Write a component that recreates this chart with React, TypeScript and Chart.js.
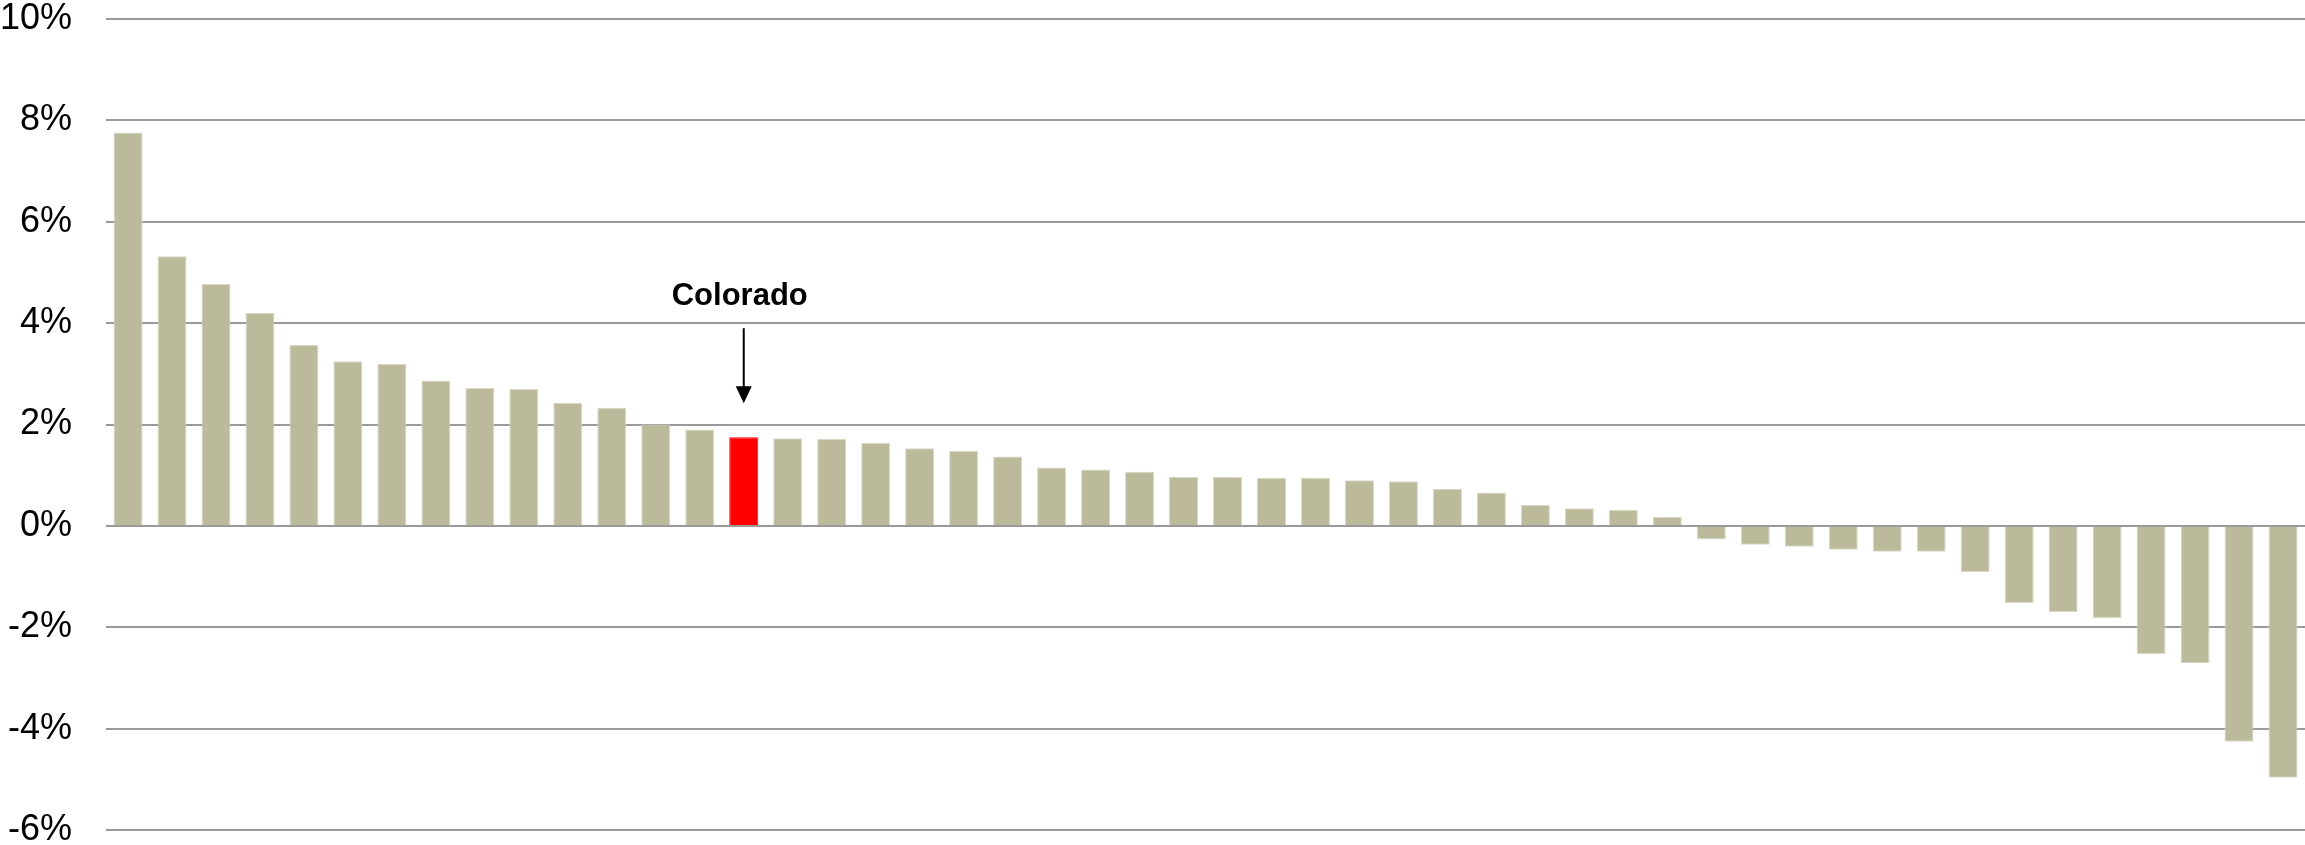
import React, { useEffect, useRef } from "react";
import { Chart, registerables, Plugin } from "chart.js";

Chart.register(...registerables);

const categories: string[] = [
  "", "", "", "", "", "", "", "", "", "",
  "", "", "", "", "Colorado", "", "", "", "", "",
  "", "", "", "", "", "", "", "", "", "",
  "", "", "", "", "", "", "", "", "", "",
  "", "", "", "", "", "", "", "", "", "",
];

const growthValues: number[] = [
  7.76, 5.32, 4.77, 4.2, 3.57, 3.25, 3.2, 2.87, 2.72, 2.7,
  2.43, 2.33, 2.0, 1.9, 1.75, 1.73, 1.72, 1.64, 1.53, 1.48,
  1.37, 1.15, 1.11, 1.07, 0.97, 0.97, 0.95, 0.95, 0.9, 0.88,
  0.73, 0.66, 0.41, 0.35, 0.32, 0.18, -0.27, -0.37, -0.41, -0.47,
  -0.51, -0.51, -0.91, -1.52, -1.7, -1.82, -2.53, -2.71, -4.26, -4.97,
];

const highlightLabel = "Colorado";
const yMin = -6;
const yMax = 10;
const yStep = 2;

const BAR_COLOR = "#BBBA9B";
const BAR_EDGE = "#D9D9C6";
const HIGHLIGHT_COLOR = "#FF0000";

const calloutPlugin: Plugin<"bar"> = {
  id: "callout",
  afterDatasetsDraw(chart) {
    const idx = categories.indexOf(highlightLabel);
    if (idx < 0) return;
    const meta = chart.getDatasetMeta(0);
    const el: any = meta.data[idx];
    if (!el) return;
    const x = el.x;
    const top = el.y;
    const ctx = chart.ctx;
    ctx.save();
    ctx.fillStyle = "#000";
    ctx.strokeStyle = "#000";
    ctx.font = 'bold 31px "Liberation Sans", Arial, sans-serif';
    ctx.textAlign = "center";
    ctx.textBaseline = "alphabetic";
    ctx.fillText(highlightLabel, x - 4, top - 132);
    const tipY = top - 34;
    const lineTop = top - 109;
    ctx.lineWidth = 2;
    ctx.beginPath();
    ctx.moveTo(x, lineTop);
    ctx.lineTo(x, tipY - 14);
    ctx.stroke();
    ctx.beginPath();
    ctx.moveTo(x - 8, tipY - 17);
    ctx.lineTo(x + 8, tipY - 17);
    ctx.lineTo(x, tipY);
    ctx.closePath();
    ctx.fill();
    ctx.restore();
  },
};

export default function App() {
  const canvasRef = useRef<HTMLCanvasElement | null>(null);

  useEffect(() => {
    if (!canvasRef.current) return;
    const chart = new Chart(canvasRef.current, {
      type: "bar",
      data: {
        labels: categories,
        datasets: [
          {
            data: growthValues,
            backgroundColor: categories.map((c) =>
              c === highlightLabel ? HIGHLIGHT_COLOR : BAR_COLOR
            ),
            borderColor: categories.map((c) =>
              c === highlightLabel ? HIGHLIGHT_COLOR : BAR_EDGE
            ),
            borderWidth: 1,
            barPercentage: 1,
            categoryPercentage: 0.66,
          },
        ],
      },
      options: {
        animation: false,
        responsive: false,
        layout: { padding: { top: 19, bottom: 15, left: 0, right: 0 } },
        plugins: {
          legend: { display: false },
          tooltip: { enabled: false },
        },
        scales: {
          x: { display: false },
          y: {
            min: yMin,
            max: yMax,
            border: { display: false },
            grid: {
              color: "#9a9a9a",
              lineWidth: 2,
              drawTicks: true,
              tickLength: 34,
              tickColor: "rgba(0,0,0,0)",
            },
            ticks: {
              stepSize: yStep,
              padding: 0,
              color: "#000",
              font: {
                family: '"Liberation Sans", Arial, sans-serif',
                size: 36,
                lineHeight: 0.8,
              },
              callback: (v: any) => `${v}%`,
            },
          },
        },
      },
      plugins: [calloutPlugin],
    });
    return () => chart.destroy();
  }, []);

  return (
    <div style={{ position: "absolute", left: 0, top: 0, width: 2305, height: 845, background: "#fff" }}>
      <canvas ref={canvasRef} width={2305} height={845} />
    </div>
  );
}
